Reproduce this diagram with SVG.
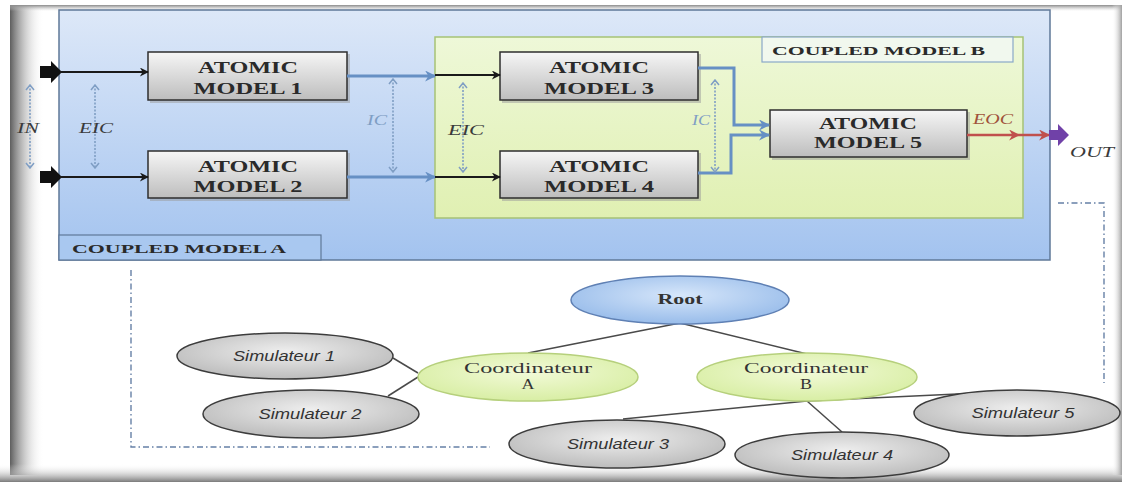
<svg xmlns="http://www.w3.org/2000/svg" width="1122" height="482" viewBox="0 0 1122 482">
  <defs>
    <linearGradient id="gBlue" x1="0" y1="0" x2="0" y2="1">
      <stop offset="0" stop-color="#dde8f8"/>
      <stop offset="1" stop-color="#a3c3ef"/>
    </linearGradient>
    <linearGradient id="gGreen" x1="0" y1="0" x2="0" y2="1">
      <stop offset="0" stop-color="#eef8d8"/>
      <stop offset="1" stop-color="#e0f0b2"/>
    </linearGradient>
    <linearGradient id="gAtomic" x1="0" y1="0" x2="0" y2="1">
      <stop offset="0" stop-color="#f6f6f6"/>
      <stop offset="1" stop-color="#bdbdbd"/>
    </linearGradient>
    <radialGradient id="gSim" cx="0.5" cy="0.4" r="0.6">
      <stop offset="0" stop-color="#eeeeee"/>
      <stop offset="1" stop-color="#bcbcbc"/>
    </radialGradient>
    <radialGradient id="gCoord" cx="0.5" cy="0.4" r="0.6">
      <stop offset="0" stop-color="#f2fad8"/>
      <stop offset="1" stop-color="#d8eea4"/>
    </radialGradient>
    <radialGradient id="gRoot" cx="0.5" cy="0.4" r="0.6">
      <stop offset="0" stop-color="#d6e6fa"/>
      <stop offset="1" stop-color="#98bcea"/>
    </radialGradient>
    <linearGradient id="gShadeL" x1="0" y1="0" x2="1" y2="0">
      <stop offset="0" stop-color="#5e5e5e"/>
      <stop offset="1" stop-color="#ffffff" stop-opacity="0"/>
    </linearGradient>
    <linearGradient id="gShadeB" x1="0" y1="0" x2="0" y2="1">
      <stop offset="0" stop-color="#ffffff" stop-opacity="0"/>
      <stop offset="1" stop-color="#7a7a7a"/>
    </linearGradient>
    <linearGradient id="gShadeR" x1="0" y1="0" x2="1" y2="0">
      <stop offset="0" stop-color="#ffffff" stop-opacity="0"/>
      <stop offset="1" stop-color="#a0a0a0"/>
    </linearGradient>
    <linearGradient id="gShadeT" x1="0" y1="0" x2="0" y2="1">
      <stop offset="0" stop-color="#8a8a8a"/>
      <stop offset="1" stop-color="#d0d0d0" stop-opacity="0"/>
    </linearGradient>

    <marker id="arBlack" viewBox="0 0 10 10" refX="9" refY="5" markerWidth="11" markerHeight="9" markerUnits="userSpaceOnUse" orient="auto">
      <path d="M0,0 L10,5 L0,10 L3,5 z" fill="#1a1a1a"/>
    </marker>
    <marker id="arBlue" viewBox="0 0 10 10" refX="9" refY="5" markerWidth="13" markerHeight="11" markerUnits="userSpaceOnUse" orient="auto">
      <path d="M0,0 L10,5 L0,10 L3,5 z" fill="#6690c4"/>
    </marker>
    <marker id="arRed" viewBox="0 0 10 10" refX="9" refY="5" markerWidth="13" markerHeight="11" markerUnits="userSpaceOnUse" orient="auto">
      <path d="M0,0 L10,5 L0,10 L3,5 z" fill="#c0504d"/>
    </marker>
    <!-- open chevron for the coupling span markers -->
    <marker id="arDot" viewBox="0 0 10 10" refX="9" refY="5" markerWidth="10" markerHeight="10" markerUnits="userSpaceOnUse" orient="auto-start-reverse">
      <path d="M4,1 L9,5 L4,9" fill="none" stroke="#7f9ec4" stroke-width="1.5"/>
    </marker>

    <style>
      .atomic rect.box { fill: url(#gAtomic); stroke: #2e2e2e; stroke-width: 1.5; }
      .atomic rect.shadow { fill: #9a9a9a; opacity: 0.5; }
      .atomic text { font-family: "Liberation Serif", serif; font-weight: bold; font-size: 17px; fill: #2a2a2a; text-anchor: middle; }
      .lbl { font-family: "Liberation Serif", serif; font-weight: bold; font-size: 13px; fill: #2a2a2a; }
      .ital { font-family: "Liberation Serif", serif; font-style: italic; font-size: 14px; }
      .sim ellipse { fill: url(#gSim); stroke: #3c3c3c; stroke-width: 1.5; }
      .sim text { font-family: "Liberation Sans", sans-serif; font-style: italic; font-size: 14px; fill: #333333; text-anchor: middle; }
      .coord ellipse { fill: url(#gCoord); stroke: #b6d07c; stroke-width: 1.5; }
      .coord text, .root text { font-family: "Liberation Serif", serif; font-size: 14px; fill: #333333; text-anchor: middle; }
      .root ellipse { fill: url(#gRoot); stroke: #5f80b4; stroke-width: 1.5; }
      .root text { font-weight: bold; }
      .black { stroke: #1a1a1a; stroke-width: 2; fill: none; marker-end: url(#arBlack); }
      .blue { stroke: #6690c4; stroke-width: 3; fill: none; marker-end: url(#arBlue); }
      .red { stroke: #c0504d; stroke-width: 2.5; fill: none; marker-end: url(#arRed); }
      .dotted { stroke: #7f9ec4; stroke-width: 1.6; stroke-dasharray: 2 1.5; fill: none; marker-start: url(#arDot); marker-end: url(#arDot); }
      .tree { stroke: #4a4a4a; stroke-width: 1.5; fill: none; }
      .dashdot { stroke: #6680a6; stroke-width: 1.4; stroke-dasharray: 6 3 1.5 3; fill: none; }
    </style>
  </defs>

  <!-- page and its shaded edges -->
  <rect x="0" y="0" width="1122" height="482" fill="#ffffff"/>
  <rect x="10" y="5" width="34" height="470" fill="url(#gShadeL)"/>
  <rect x="10" y="5" width="1112" height="6" fill="url(#gShadeT)"/>
  <rect x="0" y="464" width="1122" height="18" fill="url(#gShadeB)"/>
  <rect x="1112" y="5" width="10" height="470" fill="url(#gShadeR)"/>

  <!-- coupled model A -->
  <g id="coupled-a">
    <rect x="59" y="10" width="991" height="250" fill="url(#gBlue)" stroke="#5f7898" stroke-width="1.5"/>
    <rect x="59" y="235" width="262" height="25" fill="#a9c8f0" stroke="#5f7898" stroke-width="1.2"/>
    <text class="lbl" x="72" y="253" textLength="214" lengthAdjust="spacingAndGlyphs">COUPLED MODEL A</text>
  </g>

  <!-- coupled model B -->
  <g id="coupled-b">
    <rect x="435" y="37" width="588" height="181" fill="url(#gGreen)" stroke="#a6c276" stroke-width="1.5"/>
    <rect x="762" y="37" width="251" height="25" fill="#f1f8ee" stroke="#8aa8c8" stroke-width="1.2"/>
    <text class="lbl" x="772" y="55" textLength="213" lengthAdjust="spacingAndGlyphs">COUPLED MODEL B</text>
  </g>

  <!-- atomic models -->
  <g id="atomic-1" class="atomic">
    <rect class="shadow" x="150" y="54" width="200" height="49"/>
    <rect class="box" x="148" y="52" width="199" height="48"/>
    <text x="248" y="73" textLength="100" lengthAdjust="spacingAndGlyphs">ATOMIC</text>
    <text x="248" y="94" textLength="109" lengthAdjust="spacingAndGlyphs">MODEL 1</text>
  </g>
  <g id="atomic-2" class="atomic">
    <rect class="shadow" x="150" y="153" width="200" height="48"/>
    <rect class="box" x="148" y="151" width="199" height="47"/>
    <text x="248" y="172" textLength="100" lengthAdjust="spacingAndGlyphs">ATOMIC</text>
    <text x="248" y="192" textLength="109" lengthAdjust="spacingAndGlyphs">MODEL 2</text>
  </g>
  <g id="atomic-3" class="atomic">
    <rect class="shadow" x="502" y="54" width="199" height="49"/>
    <rect class="box" x="500" y="52" width="198" height="48"/>
    <text x="599" y="73" textLength="100" lengthAdjust="spacingAndGlyphs">ATOMIC</text>
    <text x="599" y="94" textLength="110" lengthAdjust="spacingAndGlyphs">MODEL 3</text>
  </g>
  <g id="atomic-4" class="atomic">
    <rect class="shadow" x="502" y="153" width="199" height="48"/>
    <rect class="box" x="500" y="151" width="198" height="47"/>
    <text x="599" y="172" textLength="100" lengthAdjust="spacingAndGlyphs">ATOMIC</text>
    <text x="599" y="192" textLength="110" lengthAdjust="spacingAndGlyphs">MODEL 4</text>
  </g>
  <g id="atomic-5" class="atomic">
    <rect class="shadow" x="772" y="112" width="198" height="48"/>
    <rect class="box" x="770" y="110" width="197" height="47"/>
    <text x="868" y="129" textLength="98" lengthAdjust="spacingAndGlyphs">ATOMIC</text>
    <text x="868" y="148" textLength="108" lengthAdjust="spacingAndGlyphs">MODEL 5</text>
  </g>

  <!-- couplings -->
  <g id="connectors">
    <!-- input ports -->
    <path d="M40,66 H51 V61 L62,72 L51,83 V78 H40 z" fill="#111111"/>
    <path d="M40,171 H51 V166 L62,177 L51,188 V183 H40 z" fill="#111111"/>
    <line class="black" x1="60" y1="72" x2="148" y2="72"/>
    <line class="black" x1="60" y1="177" x2="148" y2="177"/>

    <!-- IC in A -->
    <line class="blue" x1="347" y1="76" x2="435" y2="76"/>
    <line class="blue" x1="347" y1="177" x2="435" y2="177"/>

    <!-- EIC into B -->
    <line class="black" x1="435" y1="75" x2="500" y2="75"/>
    <line class="black" x1="435" y1="177" x2="500" y2="177"/>

    <!-- IC in B -->
    <polyline class="blue" points="698,68 734,68 734,125 769,125"/>
    <polyline class="blue" points="698,173 731,173 731,135 769,135"/>

    <!-- EOC and output port -->
    <line class="red" x1="967" y1="135" x2="1019" y2="135"/>
    <line class="red" x1="1019" y1="135" x2="1049" y2="135"/>
    <path d="M1049,130 H1058 V124 L1069,135 L1058,146 V140 H1049 z" fill="#7041a8"/>

    <!-- coupling span markers -->
    <line class="dotted" x1="30" y1="85" x2="30" y2="168"/>
    <line class="dotted" x1="95" y1="85" x2="95" y2="168"/>
    <line class="dotted" x1="393" y1="79" x2="393" y2="172"/>
    <line class="dotted" x1="463" y1="83" x2="463" y2="172"/>
    <line class="dotted" x1="715" y1="80" x2="715" y2="172"/>

    <!-- coupling labels -->
    <text class="ital" x="17" y="133" fill="#3a3a3a" textLength="22" lengthAdjust="spacingAndGlyphs">IN</text>
    <text class="ital" x="79" y="133" fill="#3a3a3a" textLength="34" lengthAdjust="spacingAndGlyphs">EIC</text>
    <text class="ital" x="367" y="125" fill="#7f9ec4" textLength="20" lengthAdjust="spacingAndGlyphs">IC</text>
    <text class="ital" x="448" y="135" fill="#3a3a3a" textLength="36" lengthAdjust="spacingAndGlyphs">EIC</text>
    <text class="ital" x="692" y="125" fill="#7f9ec4" textLength="18" lengthAdjust="spacingAndGlyphs">IC</text>
    <text class="ital" x="973" y="124" fill="#a0523a" textLength="40" lengthAdjust="spacingAndGlyphs">EOC</text>
    <text class="ital" x="1070" y="157" fill="#3a3a3a" textLength="44" lengthAdjust="spacingAndGlyphs">OUT</text>

    <!-- grouping outlines of the hierarchy -->
    <polyline class="dashdot" points="131,270 131,447 490,447"/>
    <polyline class="dashdot" points="1058,203 1104,203 1104,383"/>

    <!-- hierarchy links -->
    <line class="tree" x1="680" y1="323" x2="528" y2="353"/>
    <line class="tree" x1="680" y1="323" x2="807" y2="354"/>
    <line class="tree" x1="393" y1="358" x2="418" y2="373"/>
    <line class="tree" x1="388" y1="396" x2="418" y2="377"/>
    <line class="tree" x1="807" y1="401" x2="623" y2="419"/>
    <line class="tree" x1="807" y1="401" x2="842" y2="432"/>
    <line class="tree" x1="807" y1="401" x2="1000" y2="392"/>
  </g>

  <!-- processor hierarchy -->
  <g id="root" class="root">
    <ellipse cx="680" cy="300" rx="109" ry="24"/>
    <text x="680" y="304" textLength="45" lengthAdjust="spacingAndGlyphs">Root</text>
  </g>
  <g id="coordinateur-a" class="coord">
    <ellipse cx="528" cy="377" rx="110" ry="24"/>
    <text x="528" y="373" textLength="128" lengthAdjust="spacingAndGlyphs">Coordinateur</text>
    <text x="528" y="389" textLength="13" lengthAdjust="spacingAndGlyphs">A</text>
  </g>
  <g id="coordinateur-b" class="coord">
    <ellipse cx="807" cy="377" rx="110" ry="24"/>
    <text x="806" y="373" textLength="124" lengthAdjust="spacingAndGlyphs">Coordinateur</text>
    <text x="806" y="389" textLength="12" lengthAdjust="spacingAndGlyphs">B</text>
  </g>
  <g id="simulateur-1" class="sim">
    <ellipse cx="285" cy="356" rx="108" ry="23"/>
    <text x="284" y="361" textLength="102" lengthAdjust="spacingAndGlyphs">Simulateur 1</text>
  </g>
  <g id="simulateur-2" class="sim">
    <ellipse cx="311" cy="414" rx="108" ry="24"/>
    <text x="310" y="419" textLength="103" lengthAdjust="spacingAndGlyphs">Simulateur 2</text>
  </g>
  <g id="simulateur-3" class="sim">
    <ellipse cx="617" cy="444" rx="108" ry="24"/>
    <text x="618" y="449" textLength="102" lengthAdjust="spacingAndGlyphs">Simulateur 3</text>
  </g>
  <g id="simulateur-4" class="sim">
    <ellipse cx="842" cy="455" rx="107" ry="23"/>
    <text x="842" y="460" textLength="102" lengthAdjust="spacingAndGlyphs">Simulateur 4</text>
  </g>
  <g id="simulateur-5" class="sim">
    <ellipse cx="1017" cy="413" rx="103" ry="23"/>
    <text x="1023" y="418" textLength="103" lengthAdjust="spacingAndGlyphs">Simulateur 5</text>
  </g>
</svg>
